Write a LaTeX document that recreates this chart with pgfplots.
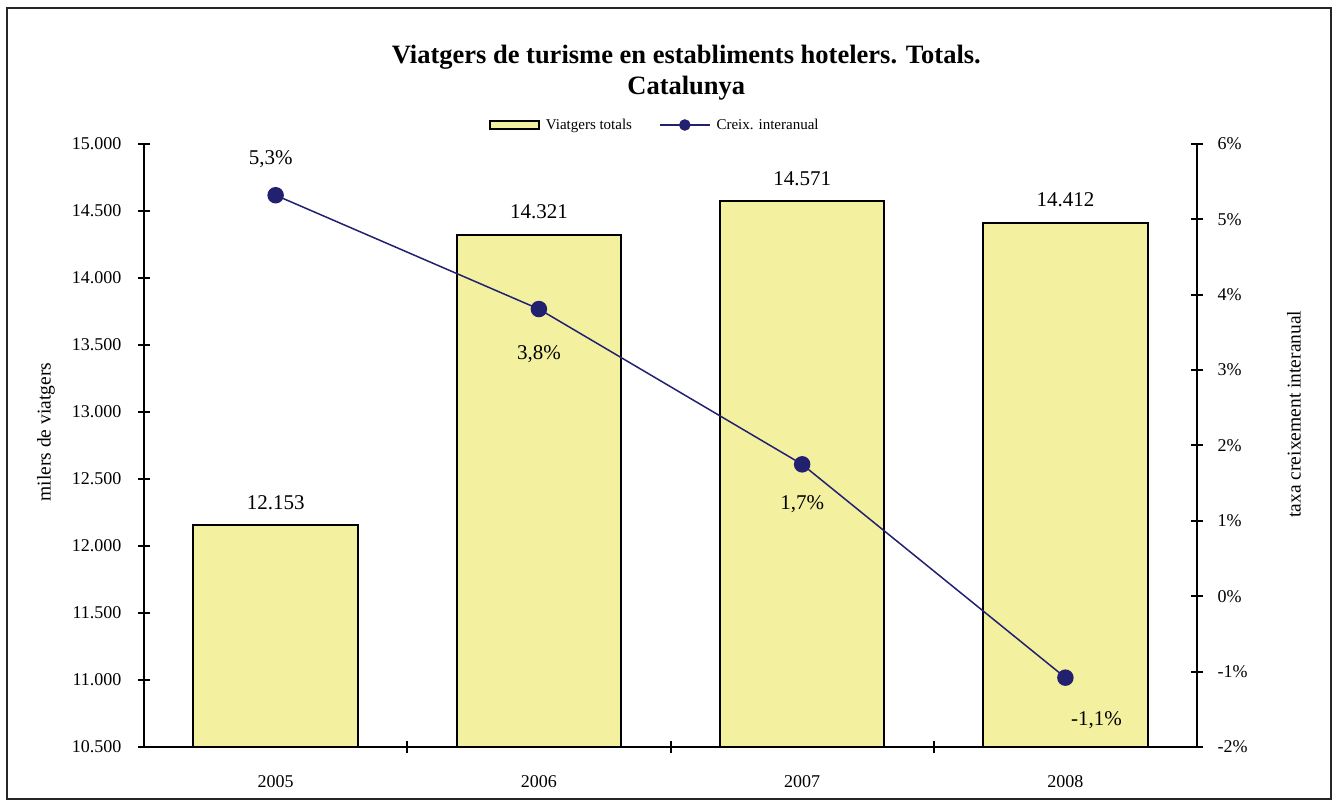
\documentclass[border=0pt]{standalone}
\usepackage{pgfplots}
\pgfplotsset{compat=1.18}
\usepackage{fontspec}
\setmainfont{Liberation Serif}
\definecolor{barfill}{RGB}{243,240,160}
\definecolor{navy}{RGB}{33,33,112}
\pgfplotsset{
  /pgf/number format/assume math mode=true,
}
\begin{document}
\begin{tikzpicture}[x=1bp,y=1bp]
\useasboundingbox (0,0) rectangle (1335,800);
\draw[line width=1.5bp, black!85] (7,1) rectangle (1331,792);
\begin{axis}[
  at={(144bp,53bp)}, anchor=south west,
  scale only axis, width=1053bp, height=603bp,
  xmin=-0.5, xmax=3.5, ymin=10500, ymax=15000,
  axis x line*=bottom, axis y line*=left,
  axis line style={-, line width=2bp},
  ytick={10500,11000,...,15000},
  scaled y ticks=false,
  xtick={0.5,1.5,2.5}, xticklabels={,,},
  extra x ticks={0,1,2,3},
  extra x tick labels={2005,2006,2007,2008},
  extra x tick style={tick style={draw=none}},
  xticklabel style={anchor=center, yshift=-29bp, font=\fontsize{18bp}{20bp}\selectfont},
  yticklabel style={anchor=east, xshift=-13bp, font=\fontsize{18bp}{20bp}\selectfont},
  major tick length=12bp,
  tick align=center,
  tick style={line width=2bp, black},
  /pgf/number format/.cd, 1000 sep={.}, fixed, precision=0,
  /pgfplots/.cd,
  ylabel={milers de viatgers},
  every axis y label/.style={at={(axis description cs:-0.093,0.522)}, rotate=90, anchor=center, font=\fontsize{19.5bp}{22bp}\selectfont},
  title={Viatgers de turisme en establiments hotelers. Totals.\\Catalunya},
  title style={at={(axis description cs:0.515,1.108)}, anchor=center, align=center, font=\fontsize{26.5bp}{31bp}\selectfont\bfseries},
  clip=false,
]
\addplot[ybar, bar width=0.624, fill=barfill, draw=black, line width=2bp,
  nodes near coords,
  every node near coord/.append style={anchor=center, yshift=23bp, font=\fontsize{21bp}{24bp}\selectfont, black}]
  coordinates {(0,12153) (1,14321) (2,14571) (3,14412)};
\end{axis}
\begin{axis}[
  at={(144bp,53bp)}, anchor=south west,
  scale only axis, width=1053bp, height=603bp,
  xmin=-0.5, xmax=3.5, ymin=-2, ymax=6,
  axis x line=none, axis y line*=right,
  axis line style={-, line width=2bp},
  ytick={-2,-1,...,6},
  yticklabel={\pgfmathprintnumber{\tick}\%},
  yticklabel style={anchor=west, xshift=11bp, font=\fontsize{18bp}{20bp}\selectfont},
  major tick length=12bp,
  tick align=center,
  tick style={line width=2bp, black},
  ylabel={taxa creixement interanual},
  every axis y label/.style={at={(axis description cs:1.092,0.552)}, rotate=90, anchor=center, font=\fontsize{19.5bp}{22bp}\selectfont},
  legend columns=2,
  legend style={at={(axis description cs:0.325,1.0315)}, anchor=west, draw=none, fill=none,
    font=\fontsize{15bp}{17bp}\selectfont, column sep=4bp,
    /tikz/every even column/.append style={column sep=25bp}},
  clip=false,
]
\addlegendimage{legend image code/.code={\draw[fill=barfill, draw=black, line width=1.5bp] (0bp,-4bp) rectangle (49bp,4bp);}}
\addlegendentry{Viatgers totals}
\addplot[navy, line width=1.5bp, mark=*, mark size=7.5bp, mark options={fill=navy, draw=navy},
  legend image code/.code={\draw[navy, line width=1.5bp] (0bp,0bp) -- (50bp,0bp); \fill[navy] (25bp,0bp) circle (5bp);}]
  coordinates {(0,5.32) (1,3.81) (2,1.75) (3,-1.08)};
\addlegendentry{Creix. interanual}
\node[font=\fontsize{21bp}{24bp}\selectfont, xshift=-5bp, yshift=36bp] at (axis cs:0,5.32) {5,3\%};
\node[font=\fontsize{21bp}{24bp}\selectfont, yshift=-45bp] at (axis cs:1,3.81) {3,8\%};
\node[font=\fontsize{21bp}{24bp}\selectfont, yshift=-40bp] at (axis cs:2,1.75) {1,7\%};
\node[font=\fontsize{21bp}{24bp}\selectfont, xshift=31bp, yshift=-42bp] at (axis cs:3,-1.08) {-1,1\%};
\end{axis}
\end{tikzpicture}
\end{document}
